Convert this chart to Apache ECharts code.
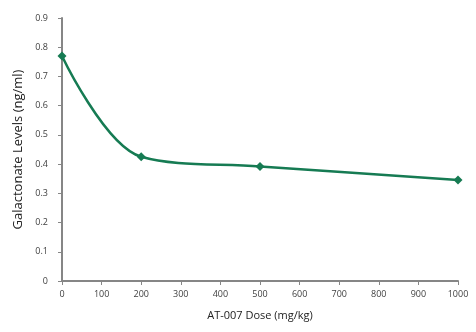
<!DOCTYPE html>
<html><head><meta charset="utf-8">
<script src="https://cdn.jsdelivr.net/npm/echarts@6/dist/echarts.min.js"></script>
<style>html,body{margin:0;padding:0;background:#fff}#c{width:476px;height:332px}</style>
</head><body><div id="c"></div>
<script>
const doses = [0, 200, 500, 1000];
const levels = [0.77, 0.425, 0.392, 0.346];
const xTicks = [0, 100, 200, 300, 400, 500, 600, 700, 800, 900, 1000];
const yTicks = [0, 0.1, 0.2, 0.3, 0.4, 0.5, 0.6, 0.7, 0.8, 0.9];
const chart = echarts.init(document.getElementById('c'));
const axisLine = {show: true, lineStyle: {color: '#868686', width: 2}};
const axisTick = {show: true, length: 4, lineStyle: {color: '#868686', width: 1}};
chart.setOption({
  animation: false,
  grid: {left: 62, top: 18, right: 18, bottom: 51},
  xAxis: {
    type: 'value', min: xTicks[0], max: xTicks[xTicks.length - 1], interval: 100,
    axisLine, axisTick, splitLine: {show: false},
    axisLabel: {color: '#404040', fontSize: 9, fontFamily: 'Open Sans', margin: 9,
      formatter: v => String(v)},
    name: 'AT-007 Dose (mg/kg)', nameLocation: 'middle', nameGap: 29,
    nameTextStyle: {color: '#222', fontSize: 11, fontFamily: 'Open Sans'}
  },
  yAxis: {
    type: 'value', min: yTicks[0], max: yTicks[yTicks.length - 1], interval: 0.1,
    axisLine, axisTick, splitLine: {show: false},
    axisLabel: {color: '#404040', fontSize: 9, fontFamily: 'Open Sans', margin: 14,
      formatter: v => String(Math.round(v * 10) / 10)},
    name: 'Galactonate Levels (ng/ml)', nameLocation: 'middle', nameGap: 36,
    nameTextStyle: {color: '#222', fontSize: 13, fontFamily: 'Open Sans'}
  },
  series: [{
    type: 'line',
    data: doses.map((d, i) => [d, levels[i]]),
    smooth: 0.35,
    symbol: 'diamond', symbolSize: 9,
    lineStyle: {color: '#167b53', width: 2.5},
    itemStyle: {color: '#167b53'}
  }]
});
</script></body></html>
